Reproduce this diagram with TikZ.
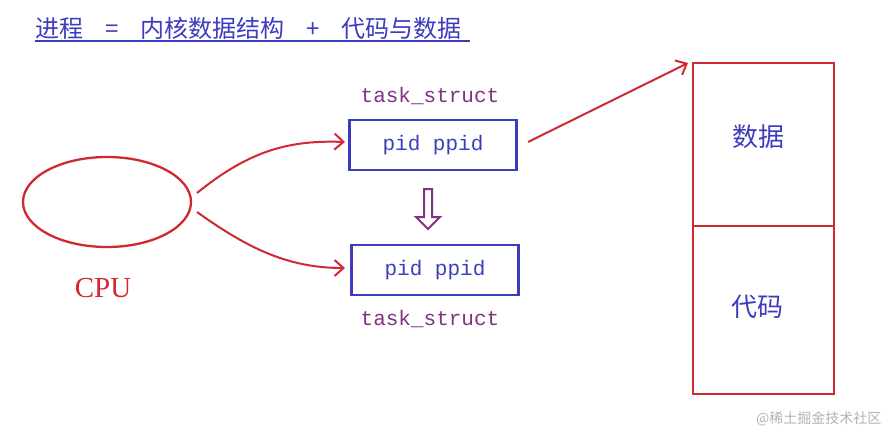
\documentclass[tikz,border=0pt]{standalone}
\usepackage{fontspec}
\setmainfont{Liberation Serif}
\setmonofont{Liberation Mono}
\newfontfamily\cjk{Noto Sans CJK SC}
\usetikzlibrary{arrows.meta,shapes.arrows,shapes.geometric}
\definecolor{rd}{RGB}{210,40,50}
\definecolor{bl}{RGB}{60,60,190}
\definecolor{pu}{RGB}{130,50,130}
\tikzset{
 redline/.style={draw=rd,line width=2.3pt},
 redarrow/.style={rd,line width=2pt,-{Straight Barb[length=9pt,width=16pt]}},
 bluebox/.style={draw=bl,line width=2.3pt,minimum width=167pt,minimum height=50pt,font=\ttfamily\fontsize{21}{21}\selectfont,text=bl},
 purptext/.style={text=pu,font=\ttfamily\fontsize{21}{21}\selectfont},
 bigcjk/.style={text=bl,font=\cjk\fontsize{26}{26}\selectfont}
}
\begin{document}
\begin{tikzpicture}[x=1pt,y=-1pt]
\useasboundingbox (0,0) rectangle (891,436);
\node[anchor=west,text=bl,font=\cjk\fontsize{24}{24}\selectfont,inner sep=0pt] (title) at (35,28) {进程\hspace{22pt}=\hspace{22pt}内核数据结构\hspace{22pt}+\hspace{22pt}代码与数据};
\draw[bl,line width=1.5pt] (35,41) -- (470,41);
\node[redline,ellipse,minimum width=168pt,minimum height=90pt] (cpu) at (107,202) {};
\node[text=rd,font=\fontsize{29}{29}\selectfont] (cpulbl) at (103,288) {CPU};
\node[bluebox] (b1) at (433,145) {pid ppid};
\node[bluebox] (b2) at (435,270) {pid ppid};
\node[purptext] (t1) at (430,96) {task\_struct};
\node[purptext] (t2) at (430,319) {task\_struct};
\node[single arrow,shape border rotate=270,draw=pu,line width=2pt,minimum height=40pt,minimum width=24pt,single arrow head extend=4pt,inner sep=1pt] (down) at (428,207) {};
\coordinate (c1) at (197,193);
\coordinate (c2) at (197,212);
\draw[redarrow] (c1) .. controls (250,150) and (290,140) .. (345,142);
\draw[redarrow] (c2) .. controls (250,250) and (290,268) .. (345,268);
\coordinate (a0) at (528,142);
\coordinate (a1) at (688,63);
\draw[redarrow] (a0) -- (a1);
\node[redline,minimum width=141pt,minimum height=163pt,anchor=north west] (data) at (692,62) {};
\node[redline,minimum width=141pt,minimum height=168pt,anchor=north west] (code) at (692,225) {};
\node[bigcjk] at (758,137) {数据};
\node[bigcjk] at (757,307) {代码};
\node[text=gray!60,font=\cjk\fontsize{14}{14}\selectfont,anchor=east] (wm) at (885,419) {@稀土掘金技术社区};
\end{tikzpicture}
\end{document}
